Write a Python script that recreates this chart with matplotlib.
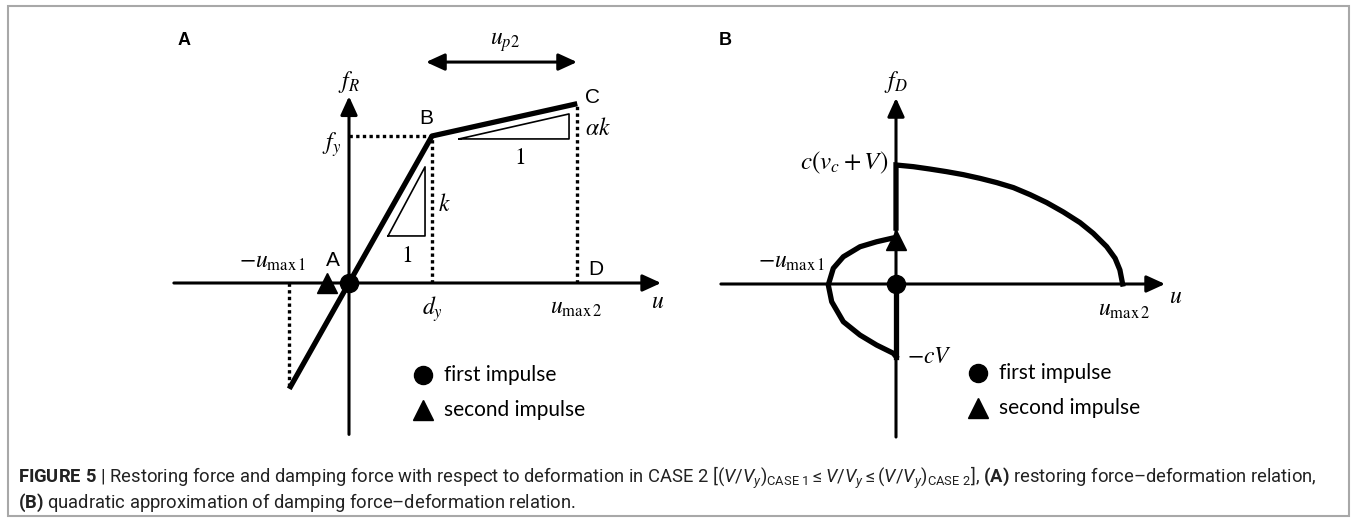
import matplotlib.pyplot as plt
from matplotlib.patches import Rectangle

plt.rcParams['mathtext.fontset'] = 'custom'
plt.rcParams['mathtext.rm'] = 'Roboto'
plt.rcParams['mathtext.it'] = 'Roboto:italic'
plt.rcParams['mathtext.bf'] = 'Roboto:bold'

# ---- panel A: restoring force, u in units of d_y, f in units of f_y
a_u = [-0.72, 0.0, 1.0, 2.75]          # lower end, A, B, C
a_f = [-0.72, 0.0, 1.0, 1.22]
a_umax1 = -0.72
a_second = -0.265                        # second impulse marker on u axis
tri_k_u = [0.47, 0.916, 0.916, 0.47]
tri_k_f = [0.32, 0.32, 0.79, 0.32]
tri_ak_u = [1.325, 2.651, 2.651, 1.325]
tri_ak_f = [0.98, 0.98, 1.15, 0.98]

# ---- panel B: damping force, u in units of u_max2, f in units of c(v_c+V)
b_up_u = [0.0, 0.0, 0.076, 0.149, 0.222, 0.295, 0.368, 0.442, 0.515, 0.588,
          0.661, 0.734, 0.807, 0.865, 0.924, 0.961, 0.982, 0.994]
b_up_f = [0.47, 1.0, 0.986, 0.966, 0.944, 0.919, 0.888, 0.852, 0.810, 0.751,
          0.684, 0.605, 0.516, 0.426, 0.314, 0.216, 0.118, 0.0]
b_left_u = [-0.019, -0.085, -0.158, -0.231, -0.275, -0.297, -0.282, -0.231,
            -0.158, -0.085, -0.012, 0.0]
b_left_f = [0.384, 0.355, 0.313, 0.229, 0.132, -0.008, -0.149, -0.317,
            -0.429, -0.513, -0.582, -0.61]
b_cv = -0.61
b_second = 0.37

W, H = 1356, 521
fig = plt.figure(figsize=(W / 100, H / 100), dpi=100)


def panel_axes(px0, py0, px1, py1, ox, oy, sx, sy):
    # axes over a pixel box, origin at (ox, oy), one unit = sx / sy pixels
    ax = fig.add_axes([px0 / W, 1 - py1 / H, (px1 - px0) / W, (py1 - py0) / H])
    ax.set_xlim((px0 - ox) / sx, (px1 - ox) / sx)
    ax.set_ylim((oy - py1) / sy, (oy - py0) / sy)
    ax.axis('off')
    return ax


def axis_arrow(ax, x0, y0, x1, y1, style='-|>'):
    ax.annotate('', xy=(x1, y1), xytext=(x0, y0),
                arrowprops=dict(arrowstyle=style + ',head_length=0.7,head_width=0.32',
                                lw=2.2, color='black', mutation_scale=16,
                                shrinkA=0, shrinkB=0))


def math(ax, x, y, s, size=17, ha='center', va='center'):
    ax.text(x, y, s, fontsize=size, ha=ha, va=va, math_fontfamily='stix',
            family='STIXGeneral')


def sans(ax, x, y, s, size=15):
    ax.text(x, y, s, fontsize=size, ha='center', va='center', family='Liberation Sans')


def legend(ax, x, y1, y2, xt):
    ax.plot(x, y1, 'o', color='black', ms=13)
    ax.plot(x, y2, '^', color='black', ms=14)
    ax.text(xt, y1, 'first impulse', fontsize=15, family='Lato', va='center')
    ax.text(xt, y2, 'second impulse', fontsize=15, family='Lato', va='center')


# ================= panel A
ax = panel_axes(0, 0, 680, 450, 349, 283, 83, 147)
axis_arrow(ax, -2.11, 0, 3.76, 0)
axis_arrow(ax, 0, -1.03, 0, 1.27)
dot = dict(color='black', lw=2.4, ls=(0, (1, 1)))
ax.plot([0, a_u[2]], [a_f[2], a_f[2]], **dot)
ax.plot([a_u[2], a_u[2]], [0, a_f[2]], **dot)
ax.plot([a_u[3], a_u[3]], [0, a_f[3]], **dot)
ax.plot([a_umax1, a_umax1], [0, a_f[0]], **dot)
ax.plot(a_u, a_f, color='black', lw=3.8, solid_capstyle='butt')
ax.plot(tri_k_u, tri_k_f, color='black', lw=1.2)
ax.plot(tri_ak_u, tri_ak_f, color='black', lw=1.2)
ax.plot(a_second, 0, '^', color='black', ms=15)
ax.plot(0, 0, 'o', color='black', ms=13)
axis_arrow(ax, 0.928, 1.503, 2.747, 1.503, style='<|-|>')

ax.text(-1.988, 1.653, 'A', fontsize=13, fontweight='bold', ha='center',
        va='center', family='Liberation Sans')
math(ax, 1.88, 1.64, r'$u_{p2}$')
math(ax, 0, 1.37, r'$f_R$')
math(ax, -0.1, 0.94, r'$f_y$', ha='right')
math(ax, 2.84, 1.05, r'$\alpha k$', ha='left')
math(ax, 2.05, 0.85, r'$1$')
math(ax, 1.145, 0.53, r'$k$')
math(ax, 0.70, 0.18, r'$1$')
math(ax, -0.916, 0.14, r'$-u_{\mathrm{max}\,1}$')
math(ax, 1.01, -0.18, r'$d_y$')
math(ax, 2.735, -0.17, r'$u_{\mathrm{max}\,2}$')
math(ax, 3.72, -0.13, r'$u$')
sans(ax, 0.928, 1.122, 'B')
sans(ax, 2.93, 1.265, 'C')
sans(ax, -0.19, 0.156, 'A')
sans(ax, 2.976, 0.095, 'D')
legend(ax, 0.89, -0.626, -0.864, 1.145)

# ================= panel B
bx = panel_axes(680, 0, 1356, 450, 896, 284, 228, 119)
axis_arrow(bx, -0.768, 0, 1.18, 0)
axis_arrow(bx, 0, -1.286, 0, 1.563)
bx.plot(b_up_u, b_up_f, color='black', lw=3.8, solid_joinstyle='miter')
bx.plot(b_left_u, b_left_f, color='black', lw=3.8)
bx.plot([0, 0], [0, b_cv], color='black', lw=3.8)
bx.plot(0, b_second, '^', color='black', ms=14)
bx.plot(0, 0, 'o', color='black', ms=13)

bx.text(-0.75, 2.05, 'B', fontsize=13, fontweight='bold', ha='center',
        va='center', family='Liberation Sans')
math(bx, 0, 1.70, r'$f_D$')
math(bx, -0.035, 1.02, r'$c\left(v_c+V\right)$', ha='right', size=18)
math(bx, -0.311, 0.185, r'$-u_{\mathrm{max}\,1}$', ha='right')
math(bx, 1.0, -0.22, r'$u_{\mathrm{max}\,2}$')
math(bx, 1.228, -0.11, r'$u$')
math(bx, 0.048, -0.62, r'$-cV$', ha='left')
legend(bx, 0.36, -0.748, -1.042, 0.452)

# ================= frame and caption
fig.add_artist(Rectangle((8 / W, 1 - 516 / H), 1341 / W, 510 / H,
                         transform=fig.transFigure, fill=False,
                         edgecolor='#a8a8a8', lw=1.5))
line1 = (r'$\mathbf{FIGURE\ 5}$ | Restoring force and damping force with respect to '
         r'deformation in CASE 2 [$(V/V_y)_{\mathrm{CASE\ 1}}\leq V/V_y\leq '
         r'(V/V_y)_{\mathrm{CASE\ 2}}$], $\mathbf{(A)}$ restoring force–deformation relation,')
line2 = r'$\mathbf{(B)}$ quadratic approximation of damping force–deformation relation.'
t1 = fig.text(18 / W, 1 - 478 / H, line1, fontsize=12, family='Roboto',
              va='center', color='#222222')
t2 = fig.text(18 / W, 1 - 503 / H, line2, fontsize=12, family='Roboto',
              va='center', color='#222222')
# fit the first caption line to the width it has in the reference
wpx = t1.get_window_extent(renderer=fig.canvas.get_renderer()).width
size = 12 * 1300 / wpx
t1.set_fontsize(size)
t2.set_fontsize(size)

fig.savefig('out.png', dpi=100)
